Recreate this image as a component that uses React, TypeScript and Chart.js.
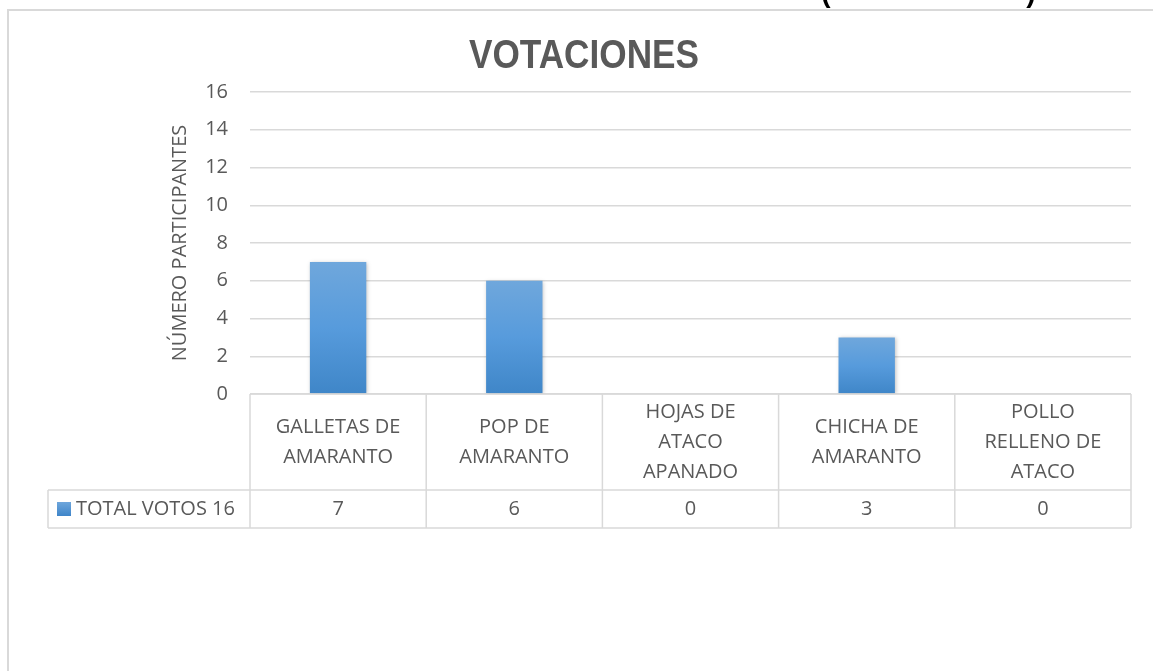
import React, { useEffect, useRef } from "react";
import { Chart, registerables } from "chart.js";

Chart.register(...registerables);

const categories: string[][] = [
  ["GALLETAS DE", "AMARANTO"],
  ["POP DE", "AMARANTO"],
  ["HOJAS DE", "ATACO", "APANADO"],
  ["CHICHA DE", "AMARANTO"],
  ["POLLO", "RELLENO DE", "ATACO"],
];
const votes: number[] = [7, 6, 0, 3, 0];
const seriesName = "TOTAL VOTOS 16";
const chartTitle = "VOTACIONES";
const yAxisTitle = "NÚMERO PARTICIPANTES";
const yMin = 0;
const yMax = 16;
const yStep = 2;

const TEXT = "#595959";
const LINE = "#d9d9d9";
const FONT = "'Open Sans', 'Noto Sans', sans-serif";
const W = 1153;
const H = 671;

export default function App() {
  const ref = useRef<HTMLCanvasElement | null>(null);

  useEffect(() => {
    if (!ref.current) return;

    const tablePlugin = {
      id: "excelTable",
      beforeDatasetsDraw(chart: any) {
        const ctx = chart.ctx;
        ctx.save();
        ctx.shadowColor = "rgba(0,0,0,0.25)";
        ctx.shadowBlur = 4;
        ctx.shadowOffsetX = 1;
        ctx.shadowOffsetY = 1;
      },
      afterDatasetsDraw(chart: any) {
        chart.ctx.restore();
      },
      afterDraw(chart: any) {
        const ctx = chart.ctx;
        const area = chart.chartArea;
        const x = chart.scales.x;
        const n = categories.length;
        const left = area.left;
        const right = area.right;
        const top = area.bottom;
        const headerBottom = top + 96;
        const rowBottom = headerBottom + 38;
        const legendLeft = 48;
        ctx.save();

        // outer chart frame (cropped)
        ctx.strokeStyle = LINE;
        ctx.lineWidth = 2;
        ctx.beginPath();
        ctx.moveTo(8, H);
        ctx.lineTo(8, 10);
        ctx.lineTo(W, 10);
        ctx.stroke();

        // table lines
        ctx.lineWidth = 1.5;
        ctx.strokeStyle = LINE;
        ctx.beginPath();
        ctx.moveTo(left, top);
        ctx.lineTo(right, top);
        ctx.moveTo(legendLeft, headerBottom);
        ctx.lineTo(right, headerBottom);
        ctx.moveTo(legendLeft, rowBottom);
        ctx.lineTo(right, rowBottom);
        ctx.moveTo(legendLeft, headerBottom);
        ctx.lineTo(legendLeft, rowBottom);
        const halfW = (x.getPixelForValue(1) - x.getPixelForValue(0)) / 2;
        for (let i = 0; i <= n; i++) {
          const px = i < n ? x.getPixelForValue(i) - halfW : x.getPixelForValue(n - 1) + halfW;
          ctx.moveTo(px, top);
          ctx.lineTo(px, rowBottom);
        }
        ctx.stroke();

        // category labels and values
        ctx.fillStyle = TEXT;
        ctx.font = `20px ${FONT}`;
        ctx.textAlign = "center";
        ctx.textBaseline = "middle";
        const lh = 30;
        const midHeader = (top + headerBottom) / 2;
        const midRow = (headerBottom + rowBottom) / 2;
        categories.forEach((lines, i) => {
          const cx = x.getPixelForValue(i);
          const start = midHeader - ((lines.length - 1) * lh) / 2;
          lines.forEach((t, j) => ctx.fillText(t, cx, start + j * lh));
          ctx.fillText(String(votes[i]), cx, midRow);
        });

        // legend key
        const g = ctx.createLinearGradient(0, midRow - 7, 0, midRow + 7);
        g.addColorStop(0, "#6ea6dc");
        g.addColorStop(1, "#3f85c9");
        ctx.fillStyle = g;
        ctx.fillRect(57, midRow - 7, 14, 14);
        ctx.fillStyle = TEXT;
        ctx.textAlign = "left";
        ctx.fillText(seriesName, 76, midRow);

        // title (condensed like Calibri)
        ctx.save();
        ctx.translate(584, 57);
        ctx.scale(0.88, 1);
        ctx.font = `bold 40px 'Liberation Sans', sans-serif`;
        ctx.textAlign = "center";
        ctx.fillText(chartTitle, 0, 0);
        ctx.restore();

        // y axis title
        ctx.save();
        ctx.translate(180, (area.top + area.bottom) / 2);
        ctx.rotate(-Math.PI / 2);
        ctx.font = `20px ${FONT}`;
        ctx.textAlign = "center";
        ctx.fillText(yAxisTitle, 0, 0);
        ctx.restore();

        // cut-off text above the chart
        ctx.fillStyle = "#000";
        ctx.font = `bold 28px 'Liberation Sans', sans-serif`;
        ctx.textAlign = "center";
        ctx.textBaseline = "alphabetic";
        ctx.fillText("(", 826, 2);
        ctx.fillText(")", 1031, 2);

        ctx.restore();
      },
    };

    const chart = new Chart(ref.current, {
      type: "bar",
      data: {
        labels: categories.map((c) => c.join(" ")),
        datasets: [
          {
            label: seriesName,
            data: votes,
            barPercentage: 0.32,
            categoryPercentage: 1,
            borderWidth: 0,
            backgroundColor: (c: any) => {
              const ch = c.chart;
              const ys = ch.scales && ch.scales.y;
              if (!ys || c.raw === undefined) return "#5b9bd5";
              const t = ys.getPixelForValue(c.raw);
              const b = ys.getPixelForValue(0);
              if (!isFinite(t) || !isFinite(b) || t === b) return "#5b9bd5";
              const g = ch.ctx.createLinearGradient(0, t, 0, b);
              g.addColorStop(0, "#6fa7dc");
              g.addColorStop(0.5, "#579bdc");
              g.addColorStop(1, "#3f86c8");
              return g;
            },
          },
        ],
      },
      options: {
        responsive: false,
        animation: false,
        devicePixelRatio: 1,
        layout: { padding: { top: 92, right: 22, bottom: 143, left: 0 } },
        plugins: {
          legend: { display: false },
          title: { display: false },
          tooltip: { enabled: false },
        },
        scales: {
          x: {
            grid: { display: false },
            border: { display: false },
            ticks: { display: false },
            afterFit: (s: any) => {
              s.height = 134;
            },
          },
          y: {
            min: yMin,
            max: yMax,
            ticks: {
              stepSize: yStep,
              padding: 22,
              color: TEXT,
              font: { family: FONT, size: 20 },
            },
            grid: { color: LINE, lineWidth: 1.5, drawTicks: false },
            border: { display: false },
            afterFit: (s: any) => {
              s.width = 250;
            },
          },
        },
      },
      plugins: [tablePlugin],
    });

    return () => chart.destroy();
  }, []);

  return (
    <div style={{ position: "fixed", left: 0, top: 0, width: W, height: H, background: "#fff" }}>
      <canvas ref={ref} width={W} height={H} style={{ width: W, height: H, display: "block" }} />
    </div>
  );
}
